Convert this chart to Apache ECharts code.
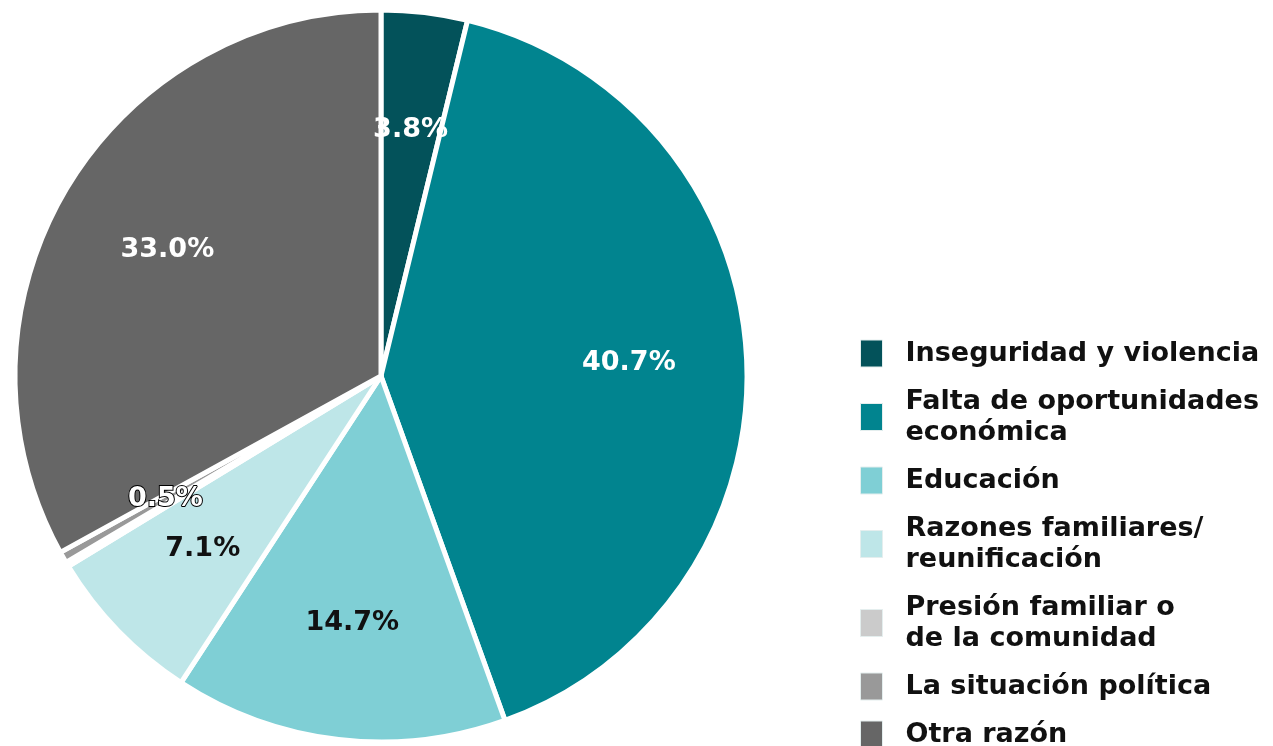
<!DOCTYPE html>
<html>
<head>
<meta charset="utf-8">
<script src="https://cdn.jsdelivr.net/npm/echarts@6/dist/echarts.min.js"></script>
<style>
  html, body { margin: 0; padding: 0; background: #ffffff; }
  #chart { width: 1273px; height: 746px; }
</style>
</head>
<body>
<div id="chart"></div>
<script>
// categorías y valores (%)
const categories = [
  'Inseguridad y violencia',
  'Falta de oportunidades\neconómica',
  'Educación',
  'Razones familiares/\nreunificación',
  'Presión familiar o\nde la comunidad',
  'La situación política',
  'Otra razón'
]
const values = [3.8, 40.7, 14.7, 7.1, 0.2, 0.5, 33.0]
const colors = ['#03525a', '#01848f', '#7fcfd5', '#bee6e8', '#cbcbcb', '#999999', '#666666']
const labelColors = ['#ffffff', '#ffffff', '#111111', '#111111', '#ffffff', '#ffffff', '#ffffff']

const chart = echarts.init(document.getElementById('chart'))

const center = [381, 376]
const radius = 366
const fontFamily = 'DejaVu Sans, Liberation Sans, sans-serif'

const pieData = categories.map((name, i) => ({
  name,
  value: values[i],
  itemStyle: { color: colors[i] }
}))

// serie transparente solo para colocar las etiquetas más afuera
const labelData = categories.map((name, i) => ({
  name,
  value: values[i],
  label: {
    color: labelColors[i],
    textBorderColor: i >= 4 && i <= 5 ? '#000000' : 'transparent',
    textBorderWidth: i >= 4 && i <= 5 ? 2 : 0
  }
}))

const option = {
  backgroundColor: '#ffffff',
  animation: false,
  legend: {
    orient: 'vertical',
    left: 860,
    top: 338,
    height: 420,
    padding: 0,
    itemWidth: 22,
    itemHeight: 27,
    itemGap: 17,
    icon: 'rect',
    data: categories,
    itemStyle: { borderColor: '#e4eeee', borderWidth: 1 },
    textStyle: {
      fontFamily: fontFamily,
      fontSize: 27,
      fontWeight: 'bold',
      color: '#111111',
      lineHeight: 31,
      padding: [0, 0, 0, 18]
    }
  },
  series: [
    {
      type: 'pie',
      center: center,
      radius: [0, radius],
      startAngle: 90,
      clockwise: true,
      data: pieData,
      label: { show: false },
      labelLine: { show: false },
      itemStyle: { borderColor: '#ffffff', borderWidth: 5 },
      emphasis: { disabled: true }
    },
    {
      type: 'pie',
      center: center,
      radius: [radius * 0.34, radius],
      startAngle: 90,
      clockwise: true,
      silent: true,
      data: labelData,
      itemStyle: { color: 'transparent' },
      label: {
        show: true,
        position: 'inside',
        formatter: (p) => p.value.toFixed(1) + '%',
        fontFamily: fontFamily,
        fontSize: 27,
        fontWeight: 'bold'
      },
      labelLine: { show: false },
      emphasis: { disabled: true }
    }
  ]
}

chart.setOption(option)
</script>
</body>
</html>
